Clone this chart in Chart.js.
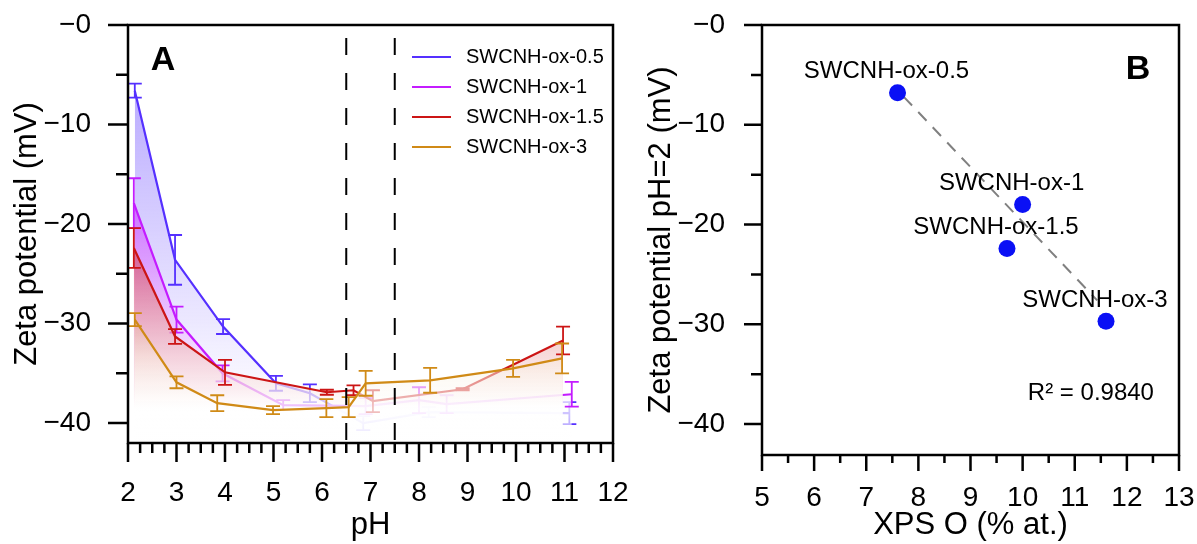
<!DOCTYPE html>
<html>
<head>
<meta charset="utf-8">
<script src="https://cdn.jsdelivr.net/npm/chart.js@4.4.1/dist/chart.umd.min.js"></script>
<style>
  html, body { margin: 0; padding: 0; background: #fff; }
  #wrap { position: relative; width: 1197px; height: 544px; overflow: hidden; }
  canvas { position: absolute; top: 0; }
  #chartA { left: 0; }
  #chartB { left: 640px; }
</style>
</head>
<body>
<div id="wrap">
  <canvas id="chartA" width="640" height="544"></canvas>
  <canvas id="chartB" width="557" height="544"></canvas>
</div>
<script>
// Panel A: zeta potential vs pH
const seriesNames = ['SWCNH-ox-0.5', 'SWCNH-ox-1', 'SWCNH-ox-1.5', 'SWCNH-ox-3'];
const seriesColors = ['#5530ff', '#c41cff', '#cc1515', '#d08a16'];

const phBlue = [2.14, 2.97, 3.96, 5.05, 5.75, 6.85, 8.2, 11.1];
const zetaBlue = [-6.6, -23.6, -30.3, -36.0, -37.0, -40.0, -38.9, -39.0];
const errBlue = [0.7, 2.5, 0.75, 0.75, 0.9, 0.7, 0.5, 1.1];

const phMag = [2.12, 3.0, 3.95, 5.2, 6.9, 8.0, 8.57, 11.15];
const zetaMag = [-17.9, -29.6, -35.0, -38.2, -38.3, -37.7, -38.1, -37.1];
const errMag = [2.5, 1.3, 0.8, 0.5, 0.8, 1.3, 0.9, 1.25];

const phRed = [2.12, 2.97, 4.0, 6.1, 6.65, 7.05, 8.9, 10.97];
const zetaRed = [-22.4, -31.3, -34.9, -36.9, -36.7, -37.8, -36.6, -31.7];
const errRed = [2.0, 0.75, 1.25, 0.25, 0.5, 1.1, 0.1, 1.4];

const phOra = [2.14, 3.0, 3.84, 4.99, 6.09, 6.55, 6.9, 8.23, 9.94, 10.95];
const zetaOra = [-29.6, -35.9, -38.0, -38.7, -38.5, -38.4, -36.0, -35.7, -34.5, -33.5];
const errOra = [0.65, 0.6, 0.8, 0.4, 0.9, 1.0, 1.25, 1.25, 0.85, 1.5];

const refPH = [6.5, 7.5];      // dashed guide lines
const FILL_FLOOR = -38.6;      // where the gradient fill turns white
const fillAlpha = [0.4, 0.5, 0.45, 0.12];

// Panel B: zeta potential at pH 2 vs XPS oxygen
const xpsO = [7.6, 10.0, 9.7, 11.6];
const zetaPH2 = [-6.8, -18.0, -22.4, -29.7];
const fitX = [7.72, 11.43];
const fitY = [-7.2, -27.6];
const r2Text = 'R\u00b2 = 0.9840';
const r2Pos = { x: 11.31, y: -36.9 };

const FONT = "'Liberation Sans', Arial, Helvetica, sans-serif";
Chart.defaults.font.family = FONT;
Chart.defaults.color = '#000';

const CAP = 7;

function toPoints(xs, ys) {
  return xs.map((x, i) => ({ x: x, y: ys[i] }));
}

function hexRgb(hex) {
  const n = parseInt(hex.slice(1), 16);
  return [(n >> 16) & 255, (n >> 8) & 255, n & 255];
}

// vertical gradient: series colour at its top, fading to white near the floor
// (stops mixed in premultiplied space so no muddy mid tones)
function fillGradient(color, alpha) {
  const c = hexRgb(color);
  const whiteA = 0.75;
  return (context) => {
    const chart = context.chart;
    const area = chart.chartArea;
    if (!area || !chart.scales.y) return `rgba(${c.join(',')},${alpha})`;
    const yScale = chart.scales.y;
    const top = yScale.getPixelForValue(Math.max(...context.dataset.data.map(p => p.y)));
    const floor = yScale.getPixelForValue(FILL_FLOOR);
    const g = chart.ctx.createLinearGradient(0, top, 0, area.bottom);
    const t = (floor - top) / (area.bottom - top);
    const steps = 10;
    for (let k = 0; k <= steps; k++) {
      const s = k / steps;
      const a = alpha * (1 - s) + whiteA * s;
      const rgb = c.map(ch => Math.round((ch * alpha * (1 - s) + 255 * whiteA * s) / a));
      g.addColorStop(t * s, `rgba(${rgb.join(',')},${a.toFixed(3)})`);
    }
    g.addColorStop(1, 'rgba(255, 255, 255, 0.45)');
    return g;
  };
}

function makeSeries(i, ph, zeta, err) {
  return {
    label: seriesNames[i],
    data: toPoints(ph, zeta),
    errors: err,
    borderColor: seriesColors[i],
    borderWidth: 2.2,
    backgroundColor: fillGradient(seriesColors[i], fillAlpha[i]),
    fill: 'start',
    pointRadius: 0,
    tension: 0,
    order: 4 - i
  };
}

function drawErrorBars(chart, index) {
  const ds = chart.data.datasets[index];
  if (!ds.errors) return;
  const meta = chart.getDatasetMeta(index);
  const yScale = chart.scales.y;
  const area = chart.chartArea;
  const ctx = chart.ctx;
  ctx.save();
  ctx.beginPath();
  ctx.rect(area.left, area.top, area.right - area.left, area.bottom - area.top);
  ctx.clip();
  ctx.strokeStyle = ds.borderColor;
  ctx.lineWidth = 1.8;
  meta.data.forEach((pt, i) => {
    const v = ds.data[i].y;
    const e = ds.errors[i];
    const y1 = yScale.getPixelForValue(v + e);
    const y2 = yScale.getPixelForValue(v - e);
    ctx.beginPath();
    ctx.moveTo(pt.x, y1); ctx.lineTo(pt.x, y2);
    ctx.moveTo(pt.x - CAP, y1); ctx.lineTo(pt.x + CAP, y1);
    ctx.moveTo(pt.x - CAP, y2); ctx.lineTo(pt.x + CAP, y2);
    ctx.stroke();
  });
  ctx.restore();
}

// box frame plus outward major / minor ticks
function drawFrame(chart, t) {
  const ctx = chart.ctx;
  const a = chart.chartArea;
  const xs = chart.scales.x;
  const ys = chart.scales.y;
  ctx.save();
  ctx.strokeStyle = '#000';
  ctx.lineWidth = 2.5;
  ctx.strokeRect(a.left, a.top, a.right - a.left, a.bottom - a.top);
  ctx.beginPath();
  for (let v = xs.min; v <= xs.max + 1e-9; v += t.xMinor) {
    const major = Math.abs(v - Math.round(v)) < 1e-6;
    const px = xs.getPixelForValue(v);
    ctx.moveTo(px, a.bottom);
    ctx.lineTo(px, a.bottom + (major ? t.xMajorLen : t.xMinorLen));
  }
  for (let v = Math.ceil(ys.min / t.yMinor) * t.yMinor; v <= ys.max + 1e-9; v += t.yMinor) {
    const major = Math.abs(v / 10 - Math.round(v / 10)) < 1e-6;
    const py = ys.getPixelForValue(v);
    ctx.moveTo(a.left, py);
    ctx.lineTo(a.left - (major ? t.yMajorLen : t.yMinorLen), py);
  }
  ctx.stroke();
  ctx.restore();
}

function yTickLabel(v) {
  return '\u2212' + Math.abs(v);
}

function baseScales(cfg) {
  return {
    x: {
      type: 'linear',
      min: cfg.xMin,
      max: cfg.xMax,
      grid: { display: false, drawTicks: false },
      border: { display: false },
      ticks: { stepSize: 1, padding: cfg.xPad, autoSkip: false, maxRotation: 0, font: { size: 28 } },
      title: { display: true, text: cfg.xTitle, font: { size: 31 }, padding: { top: 0, bottom: 0 } },
      afterFit: (s) => {
        s.height = cfg.xHeight;
        s.paddingLeft = 0;
        s.paddingRight = 0;
      }
    },
    y: {
      type: 'linear',
      min: cfg.yMin,
      max: 0,
      grid: { display: false, drawTicks: false },
      border: { display: false },
      ticks: { stepSize: 10, includeBounds: false, padding: 37, font: { size: 28 }, callback: yTickLabel },
      title: { display: true, text: cfg.yTitle, font: { size: 31 }, padding: { top: cfg.yTitlePad, bottom: 0 } },
      afterFit: (s) => {
        s.width = cfg.yWidth;
        s.paddingTop = 0;
        s.paddingBottom = 0;
      }
    }
  };
}

// ---- Panel A ----
const decorA = {
  id: 'decorA',
  afterDatasetDraw(chart, args) {
    drawErrorBars(chart, args.index);
  },
  afterDatasetsDraw(chart) {
    const ctx = chart.ctx;
    const a = chart.chartArea;
    ctx.save();
    ctx.strokeStyle = '#000';
    ctx.lineWidth = 2;
    ctx.setLineDash([17, 18]);
    ctx.lineDashOffset = 22;
    refPH.forEach(v => {
      const px = chart.scales.x.getPixelForValue(v);
      ctx.beginPath();
      ctx.moveTo(px, a.top);
      ctx.lineTo(px, a.bottom);
      ctx.stroke();
    });
    ctx.restore();
  },
  afterDraw(chart) {
    drawFrame(chart, { xMinor: 0.25, xMajorLen: 19, xMinorLen: 10, yMinor: 5, yMajorLen: 20, yMinorLen: 12 });
    const ctx = chart.ctx;
    const a = chart.chartArea;
    ctx.save();
    // legend
    ctx.font = `20px ${FONT}`;
    ctx.textBaseline = 'middle';
    ctx.textAlign = 'left';
    seriesNames.forEach((name, i) => {
      const ly = a.top + 32 + i * 30;
      ctx.strokeStyle = seriesColors[i];
      ctx.lineWidth = 2.2;
      ctx.beginPath();
      ctx.moveTo(a.right - 201, ly);
      ctx.lineTo(a.right - 162, ly);
      ctx.stroke();
      ctx.fillStyle = '#000';
      ctx.fillText(name, a.right - 147, ly);
    });
    // panel letter
    ctx.font = `bold 34px ${FONT}`;
    ctx.textAlign = 'center';
    ctx.fillText('A', a.left + 35, a.top + 36);
    ctx.restore();
  }
};

new Chart(document.getElementById('chartA'), {
  type: 'line',
  data: {
    datasets: [
      makeSeries(0, phBlue, zetaBlue, errBlue),
      makeSeries(1, phMag, zetaMag, errMag),
      makeSeries(2, phRed, zetaRed, errRed),
      makeSeries(3, phOra, zetaOra, errOra)
    ]
  },
  options: {
    responsive: false,
    animation: false,
    devicePixelRatio: 1,
    layout: { padding: { top: 25, right: 27, left: 0, bottom: 0 } },
    plugins: { legend: { display: false }, tooltip: { enabled: false } },
    scales: baseScales({
      xMin: 2, xMax: 12, xTitle: 'pH', xHeight: 101, xPad: 33,
      yMin: -42, yTitle: 'Zeta potential (mV)', yTitlePad: 9, yWidth: 128
    })
  },
  plugins: [decorA]
});

// ---- Panel B ----
const decorB = {
  id: 'decorB',
  afterDatasetsDraw(chart) {
    const ctx = chart.ctx;
    const meta = chart.getDatasetMeta(0);
    ctx.save();
    ctx.font = `24px ${FONT}`;
    ctx.fillStyle = '#000';
    ctx.textAlign = 'center';
    ctx.textBaseline = 'middle';
    meta.data.forEach((pt, i) => {
      ctx.fillText(seriesNames[i], pt.x - 11, pt.y - 21);
    });
    ctx.restore();
  },
  afterDraw(chart) {
    drawFrame(chart, { xMinor: 0.5, xMajorLen: 16, xMinorLen: 8, yMinor: 5, yMajorLen: 18, yMinorLen: 11 });
    const ctx = chart.ctx;
    const a = chart.chartArea;
    const xs = chart.scales.x;
    const ys = chart.scales.y;
    ctx.save();
    ctx.fillStyle = '#000';
    ctx.textAlign = 'center';
    ctx.textBaseline = 'middle';
    ctx.font = `24px ${FONT}`;
    ctx.fillText(r2Text, xs.getPixelForValue(r2Pos.x), ys.getPixelForValue(r2Pos.y));
    ctx.font = `bold 34px ${FONT}`;
    ctx.fillText('B', a.right - 41, a.top + 45);
    ctx.restore();
  }
};

new Chart(document.getElementById('chartB'), {
  type: 'scatter',
  data: {
    datasets: [
      {
        label: 'XPS O',
        data: toPoints(xpsO, zetaPH2),
        backgroundColor: '#0a10f5',
        borderWidth: 0,
        pointRadius: 8.5,
        order: 0
      },
      {
        label: 'fit',
        data: toPoints(fitX, fitY),
        showLine: true,
        borderColor: '#808080',
        borderWidth: 2,
        borderDash: [12, 9],
        pointRadius: 0,
        fill: false,
        order: 1
      }
    ]
  },
  options: {
    responsive: false,
    animation: false,
    devicePixelRatio: 1,
    layout: { padding: { top: 25, right: 18, left: 0, bottom: 0 } },
    plugins: { legend: { display: false }, tooltip: { enabled: false } },
    scales: baseScales({
      xMin: 5, xMax: 13, xTitle: 'XPS O (% at.)', xHeight: 89, xPad: 26,
      yMin: -43.1, yTitle: 'Zeta potential pH=2 (mV)', yTitlePad: 3, yWidth: 122
    })
  },
  plugins: [decorB]
});
</script>
</body>
</html>
